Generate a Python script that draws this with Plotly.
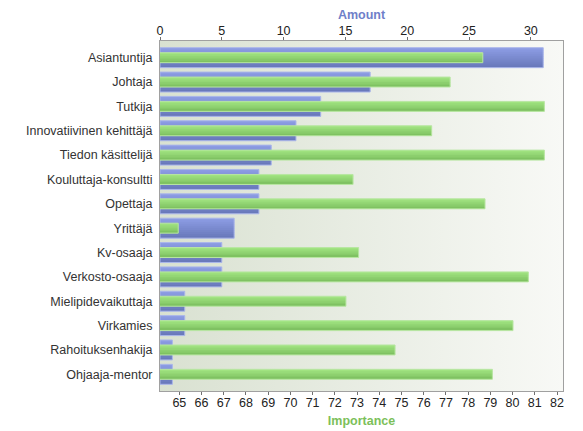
import base64
import plotly.graph_objects as go

categories = ["Asiantuntija", "Johtaja", "Tutkija", "Innovatiivinen kehittäjä",
              "Tiedon käsittelijä", "Kouluttaja-konsultti", "Opettaja", "Yrittäjä",
              "Kv-osaaja", "Verkosto-osaaja", "Mielipidevaikuttaja", "Virkamies",
              "Rahoituksenhakija", "Ohjaaja-mentor"]
amount = [31, 17, 13, 11, 9, 8, 8, 6, 5, 5, 2, 2, 1, 1]
importance = [78.66, 77.19, 81.43, 76.36, 81.43, 72.82, 78.76, 64.95,
              73.07, 80.71, 72.5, 80.02, 74.71, 79.09]
amount_ticks = [0, 5, 10, 15, 20, 25, 30]
importance_ticks = list(range(65, 83))

fig = go.Figure()

def mix(c1, c2, t):
    a = [int(c1[i:i + 2], 16) for i in (1, 3, 5)]
    b = [int(c2[i:i + 2], 16) for i in (1, 3, 5)]
    return "#" + "".join("%02x" % round(a[k] + (b[k] - a[k]) * t) for k in range(3))

def gradient_bar(x, xaxis, width, top, bottom, line_color, n=10):
    sw = width / n
    for i in range(n):
        off = -width / 2 + i * sw
        w = sw + (0.04 if i < n - 1 else 0)
        fig.add_trace(go.Bar(
            y=categories, x=x, orientation="h", xaxis=xaxis,
            width=w, offset=off,
            marker=dict(color=mix(top, bottom, i / (n - 1)), line=dict(width=0)),
            showlegend=False, hoverinfo="skip"))
    fig.add_trace(go.Bar(
        y=categories, x=x, orientation="h", xaxis=xaxis,
        width=width, offset=-width / 2,
        marker=dict(color="rgba(0,0,0,0)", line=dict(width=1, color=line_color)),
        showlegend=False, hoverinfo="skip"))

gradient_bar(amount, "x", 0.82, "#8c9ce3", "#6979bb", "#aab6ea")
gradient_bar(importance, "x2", 0.41, "#a0e380", "#7fc262", "#b8e6a2", n=6)

svg = ('<svg xmlns="http://www.w3.org/2000/svg" width="400" height="100" preserveAspectRatio="none">'
       '<defs><linearGradient id="g" x1="0" y1="0" x2="1" y2="0">'
       '<stop offset="0" stop-color="#d9e1d1"/><stop offset="1" stop-color="#f8f9f6"/>'
       '</linearGradient></defs><rect width="400" height="100" fill="url(#g)"/></svg>')
src = "data:image/svg+xml;base64," + base64.b64encode(svg.encode()).decode()

FONT = "Liberation Sans, Arial, sans-serif"
fig.update_layout(
    width=575, height=423,
    margin=dict(l=152, r=20, t=33, b=40),
    paper_bgcolor="white", plot_bgcolor="rgba(0,0,0,0)",
    barmode="overlay",
    font=dict(family=FONT, size=12.5, color="#222"),
    images=[dict(source=src, xref="paper", yref="paper", x=0, y=1, sizex=1, sizey=1,
                 sizing="stretch", layer="below", xanchor="left", yanchor="top")],
    xaxis=dict(side="top", range=[0, 32.6], tickvals=amount_ticks, automargin=False,
               showgrid=False, zeroline=False, showline=True, linecolor="#a0a0a0",
               ticks="outside", ticklen=3, tickcolor="#707070", ticklabelstandoff=-3,
               title=dict(text="<b>Amount</b>", font=dict(color="#6f7fc9", size=12.5), standoff=7),
               tickfont=dict(size=12.5, color="#222")),
    xaxis2=dict(overlaying="x", side="bottom", range=[64.13, 82.27], tickvals=importance_ticks,
                automargin=False, ticklabelstandoff=-3,
                showgrid=False, zeroline=False, showline=True, linecolor="#a0a0a0",
                ticks="outside", ticklen=3, tickcolor="#707070",
                title=dict(text="<b>Importance</b>", font=dict(color="#7cbf5a", size=12.5), standoff=7),
                tickfont=dict(size=12.5, color="#222")),
    yaxis=dict(type="category", categoryarray=categories, range=[13.685, -0.685], automargin=False,
               showgrid=False, zeroline=False, showline=True, mirror=True, linecolor="#a0a0a0",
               ticks="", tickfont=dict(size=12.5, color="#333"), ticklabelstandoff=4),
)

fig.write_html("out.html")
